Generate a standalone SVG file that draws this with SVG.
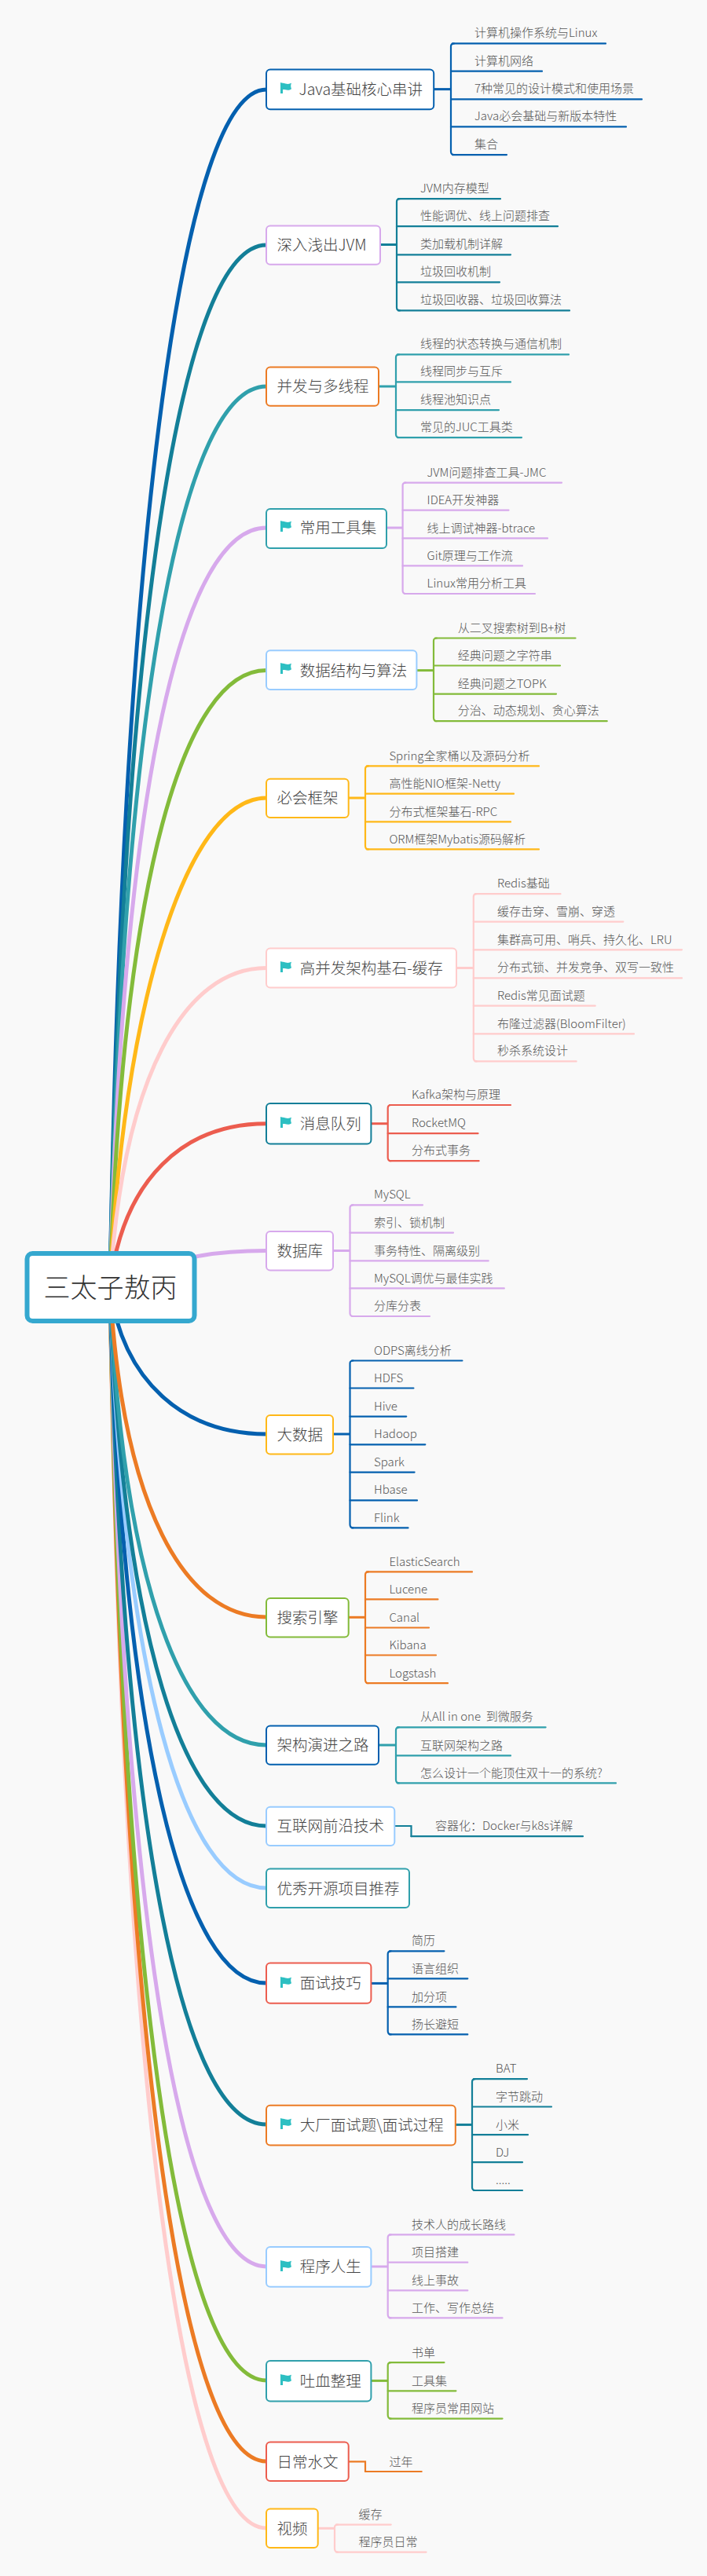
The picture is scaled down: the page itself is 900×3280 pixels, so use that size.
<svg xmlns="http://www.w3.org/2000/svg" width="900" height="3280" viewBox="0 0 900 3280">
<style>
text{font-family:"Noto Sans CJK SC","Noto Sans",sans-serif;font-weight:300;white-space:pre}
.s{font-size:15px;fill:#555}
.t{font-size:19.5px;fill:#444}
.r{fill:#fff;stroke-width:2}
.b,.k,.u{fill:none}
.b{stroke-width:5}.k{stroke-width:3}.u{stroke-width:2.2;stroke-linecap:round}
.blue{stroke:#0460AF}.dteal{stroke:#137F98}.teal{stroke:#30A0AC}.lilac{stroke:#D7A9EC}.green{stroke:#83BB3A}.yellow{stroke:#FFB818}.pink{stroke:#FFCCCC}.red{stroke:#EC5D4F}.orange{stroke:#EC7B24}.lblue{stroke:#99CCFF}
</style>
<defs><path id="flag" d="M0 0C2 1 4 .8 6.500 1.400C9 2.200 11.500 2 14 .8C13 3 12.800 5 14 8.200C11.500 10 9 10 6.500 9.300C5.500 9 4 8.800 3 9V14H0Z" fill="#2DBFC2"/></defs>
<rect width="900" height="3280" fill="#F9F9F9"/>
<g id="connectors">
<path class="b blue" d="M140 1639C156 660 235 114 339 114"/>
<path class="b dteal" d="M140 1639C156 760 235 312 339 312"/>
<path class="b teal" d="M140 1639C156 875 235 492 339 492"/>
<path class="b lilac" d="M140 1639C156 985 235 672 339 672"/>
<path class="b green" d="M140 1639C156 1115 235 853.500 339 853.500"/>
<path class="b yellow" d="M140 1639C156 1290 235 1016 339 1016"/>
<path class="b pink" d="M140 1639C156 1370 235 1232.500 339 1232.500"/>
<path class="b red" d="M140 1639C156 1500 235 1430.700 339 1430.700"/>
<path class="b lilac" d="M240 1602C270 1595 300 1592.500 339 1592.500"/>
<path class="b pink" d="M140 1639C156 2694 235 3219 339 3219"/>
<path class="b orange" d="M140 1639C156 2642 235 3134 339 3134"/>
<path class="b green" d="M140 1639C156 2584 235 3031 339 3031"/>
<path class="b lilac" d="M140 1639C156 2476 235 2886 339 2886"/>
<path class="b dteal" d="M140 1639C156 2353 235 2705 339 2705"/>
<path class="b blue" d="M140 1639C156 2221 235 2525 339 2525"/>
<path class="b lblue" d="M140 1639C156 2135 235 2404 339 2404"/>
<path class="b dteal" d="M140 1639C156 2085 235 2325 339 2325"/>
<path class="b teal" d="M140 1639C156 2020 235 2222 339 2222"/>
<path class="b orange" d="M140 1639C156 1920 235 2059 339 2059"/>
<path class="b blue" d="M140 1639C156 1760 235 1826 339 1826"/>
<g id="brackets">
<path class="k blue" d="M552 113.600H574"/><path class="u blue" d="M578 55.400Q574 55.400 574 59V193Q574 197 578 197"/>
<path class="k dteal" d="M484 311.500H505"/><path class="u dteal" d="M509 253.200Q505 253.200 505 257V391.500Q505 395.400 509 395.400"/>
<path class="k teal" d="M482 492H504"/><path class="u teal" d="M508 451.400Q504 451.400 504 455V553Q504 557 508 557"/>
<path class="k lilac" d="M492 672H512.600"/><path class="u lilac" d="M516.600 614.600Q512.600 614.600 512.600 618V752Q512.600 756 516.600 756"/>
<path class="k green" d="M530.400 853.600H552"/><path class="u green" d="M556 812.500Q552 812.500 552 816V914Q552 918.200 556 918.200"/>
<path class="k yellow" d="M443.700 1016H465"/><path class="u yellow" d="M469 975.400Q465 975.400 465 979V1077Q465 1081.400 469 1081.400"/>
<path class="k pink" d="M581 1232.500H602.800"/><path class="u pink" d="M606.800 1138.200Q602.800 1138.200 602.800 1142V1347Q602.800 1351.400 606.800 1351.400"/>
<path class="k red" d="M472.400 1430.700H493.700"/><path class="u red" d="M497.700 1407Q493.700 1407 493.700 1411V1474Q493.700 1478.200 497.700 1478.200"/>
<path class="k lilac" d="M424 1592.500H445.500"/><path class="u lilac" d="M449.500 1534.300Q445.500 1534.300 445.500 1538V1672Q445.500 1676 449.500 1676"/>
<path class="k blue" d="M424 1826H445.500"/><path class="u blue" d="M449.500 1732.500Q445.500 1732.500 445.500 1736V1941Q445.500 1945.400 449.500 1945.400"/>
<path class="k orange" d="M443.700 2059.300H465"/><path class="u orange" d="M469 2001.400Q465 2001.400 465 2005V2139Q465 2143.200 469 2143.200"/>
<path class="k teal" d="M482 2222H504"/><path class="u teal" d="M508 2199.300Q504 2199.300 504 2203V2266Q504 2270.400 508 2270.400"/>
<path class="u dteal" d="M502.300 2325H523.500V2338.200"/>
<path class="k blue" d="M472.400 2525.400H493.700"/><path class="u blue" d="M497.700 2484.300Q493.700 2484.300 493.700 2488V2586Q493.700 2590.400 497.700 2590.400"/>
<path class="k dteal" d="M579.800 2705.400H601"/><path class="u dteal" d="M605 2647.100Q601 2647.100 601 2651V2785Q601 2789 605 2789"/>
<path class="k lilac" d="M472.400 2886H493.700"/><path class="u lilac" d="M497.700 2845.400Q493.700 2845.400 493.700 2849V2947Q493.700 2951.400 497.700 2951.400"/>
<path class="k green" d="M472.400 3031.400H493.700"/><path class="u green" d="M497.700 3008.200Q493.700 3008.200 493.700 3012V3075Q493.700 3079.600 497.700 3079.600"/>
<path class="u orange" d="M443.700 3134.300H465V3147"/>
<path class="k pink" d="M404.700 3219.300H426"/><path class="u pink" d="M430 3214.600Q426 3214.600 426 3218V3245Q426 3249.600 430 3249.600"/>
</g>
</g>
<g id="root"><rect x="34.500" y="1596" width="213" height="86" rx="7" fill="#fff" stroke="#35A8CF" stroke-width="6"/><text x="140.500" y="1652" text-anchor="middle" style="font-size:34px;fill:#333;font-weight:300">三太子敖丙</text></g>

<g id="java"><rect class="r blue" x="339" y="88.600" width="213.200" height="50.700" rx="5"/><use href="#flag" x="357" y="105"/><text class="t" x="380.600" y="121">Java基础核心串讲</text></g>
<g id="java1"><path class="u blue" d="M576 55.400H771"/><text class="s" x="604" y="47">计算机操作系统与Linux</text></g>
<g id="java2"><path class="u blue" d="M574 90.700H690"/><text class="s" x="604" y="83">计算机网络</text></g>
<g id="java3"><path class="u blue" d="M574 126.400H817"/><text class="s" x="604" y="118">7种常见的设计模式和使用场景</text></g>
<g id="java4"><path class="u blue" d="M574 161.400H797"/><text class="s" x="604" y="153">Java必会基础与新版本特性</text></g>
<g id="java5"><path class="u blue" d="M576 197.100H645"/><text class="s" x="604" y="189">集合</text></g>

<g id="jvm"><rect class="r lilac" x="339" y="287.500" width="145" height="49.300" rx="5"/><text class="t" x="352.500" y="319">深入浅出JVM</text></g>
<g id="jvm1"><path class="u dteal" d="M507 253.200H637"/><text class="s" x="535" y="245">JVM内存模型</text></g>
<g id="jvm2"><path class="u dteal" d="M505 288.200H710"/><text class="s" x="535" y="280">性能调优、线上问题排查</text></g>
<g id="jvm3"><path class="u dteal" d="M505 324.300H650"/><text class="s" x="535" y="316">类加载机制详解</text></g>
<g id="jvm4"><path class="u dteal" d="M505 359.300H636"/><text class="s" x="535" y="351">垃圾回收机制</text></g>
<g id="jvm5"><path class="u dteal" d="M507 395.400H725"/><text class="s" x="535" y="387">垃圾回收器、垃圾回收算法</text></g>

<g id="thread"><rect class="r orange" x="339" y="467.500" width="143" height="49.300" rx="5"/><text class="t" x="352.500" y="499">并发与多线程</text></g>
<g id="thread1"><path class="u teal" d="M506 451.400H724"/><text class="s" x="535" y="443">线程的状态转换与通信机制</text></g>
<g id="thread2"><path class="u teal" d="M504 486.400H650"/><text class="s" x="535" y="478">线程同步与互斥</text></g>
<g id="thread3"><path class="u teal" d="M504 522.100H635"/><text class="s" x="535" y="514">线程池知识点</text></g>
<g id="thread4"><path class="u teal" d="M506 557.100H664"/><text class="s" x="535" y="549">常见的JUC工具类</text></g>

<g id="tools"><rect class="r teal" x="339" y="647.900" width="153" height="50" rx="5"/><use href="#flag" x="357" y="663"/><text class="t" x="381.700" y="679">常用工具集</text></g>
<g id="tools1"><path class="u lilac" d="M515 614.600H715"/><text class="s" x="543.600" y="606.500">JVM问题排查工具-JMC</text></g>
<g id="tools2"><path class="u lilac" d="M512.600 649.600H647.500"/><text class="s" x="543.600" y="641.500">IDEA开发神器</text></g>
<g id="tools3"><path class="u lilac" d="M512.600 685.400H697"/><text class="s" x="543.600" y="677.500">线上调试神器-btrace</text></g>
<g id="tools4"><path class="u lilac" d="M512.600 720.400H665"/><text class="s" x="543.600" y="712.500">Git原理与工作流</text></g>
<g id="tools5"><path class="u lilac" d="M515 756H681"/><text class="s" x="543.600" y="748">Linux常用分析工具</text></g>

<g id="algo"><rect class="r lblue" x="339" y="828.200" width="191.400" height="49.700" rx="5"/><use href="#flag" x="357" y="844"/><text class="t" x="381.700" y="860.500">数据结构与算法</text></g>
<g id="algo1"><path class="u green" d="M554 812.500H732.500"/><text class="s" x="582.700" y="804.500">从二叉搜索树到B+树</text></g>
<g id="algo2"><path class="u green" d="M552 847.500H713"/><text class="s" x="582.700" y="839.500">经典问题之字符串</text></g>
<g id="algo3"><path class="u green" d="M552 883.600H708"/><text class="s" x="582.700" y="875.500">经典问题之TOPK</text></g>
<g id="algo4"><path class="u green" d="M554 918.200H772.700"/><text class="s" x="582.700" y="910">分治、动态规划、贪心算法</text></g>

<g id="framework"><rect class="r yellow" x="339" y="991.800" width="104.700" height="49.200" rx="5"/><text class="t" x="352.500" y="1023">必会框架</text></g>
<g id="framework1"><path class="u yellow" d="M467 975.400H686"/><text class="s" x="495.400" y="967.500">Spring全家桶以及源码分析</text></g>
<g id="framework2"><path class="u yellow" d="M465 1010.700H654"/><text class="s" x="495.400" y="1002.500">高性能NIO框架-Netty</text></g>
<g id="framework3"><path class="u yellow" d="M465 1046.400H650"/><text class="s" x="495.400" y="1038.500">分布式框架基石-RPC</text></g>
<g id="framework4"><path class="u yellow" d="M467 1081.400H686"/><text class="s" x="495.400" y="1073.500">ORM框架Mybatis源码解析</text></g>

<g id="cache"><rect class="r pink" x="339" y="1207.500" width="242" height="50" rx="5"/><use href="#flag" x="357" y="1224"/><text class="t" x="381.700" y="1239.500">高并发架构基石-缓存</text></g>
<g id="cache1"><path class="u pink" d="M605 1138.200H713.500"/><text class="s" x="633" y="1130">Redis基础</text></g>
<g id="cache2"><path class="u pink" d="M602.800 1173.600H793.300"/><text class="s" x="633" y="1165.500">缓存击穿、雪崩、穿透</text></g>
<g id="cache3"><path class="u pink" d="M602.800 1209.300H868"/><text class="s" x="633" y="1201.500">集群高可用、哨兵、持久化、LRU</text></g>
<g id="cache4"><path class="u pink" d="M602.800 1245.400H868"/><text class="s" x="633" y="1237">分布式锁、并发竞争、双写一致性</text></g>
<g id="cache5"><path class="u pink" d="M602.800 1280.700H757.700"/><text class="s" x="633" y="1272.500">Redis常见面试题</text></g>
<g id="cache6"><path class="u pink" d="M602.800 1316.400H807"/><text class="s" x="633" y="1308.500">布隆过滤器(BloomFilter)</text></g>
<g id="cache7"><path class="u pink" d="M605 1351.400H733.600"/><text class="s" x="633" y="1343">秒杀系统设计</text></g>

<g id="mq"><rect class="r dteal" x="339" y="1405" width="133.400" height="51.400" rx="5"/><use href="#flag" x="357" y="1422"/><text class="t" x="381.700" y="1437.500">消息队列</text></g>
<g id="mq1"><path class="u red" d="M496 1407H650"/><text class="s" x="524" y="1399">Kafka架构与原理</text></g>
<g id="mq2"><path class="u red" d="M493.700 1443.200H608.500"/><text class="s" x="524" y="1435">RocketMQ</text></g>
<g id="mq3"><path class="u red" d="M496 1478.200H609.600"/><text class="s" x="524" y="1470">分布式事务</text></g>

<g id="db"><rect class="r lilac" x="339" y="1568" width="85" height="49.500" rx="5"/><text class="t" x="352.500" y="1600">数据库</text></g>
<g id="db1"><path class="u lilac" d="M448 1534.300H538"/><text class="s" x="476" y="1526">MySQL</text></g>
<g id="db2"><path class="u lilac" d="M445.500 1569.600H577"/><text class="s" x="476" y="1561.500">索引、锁机制</text></g>
<g id="db3"><path class="u lilac" d="M445.500 1605.400H621.700"/><text class="s" x="476" y="1597.500">事务特性、隔离级别</text></g>
<g id="db4"><path class="u lilac" d="M445.500 1640.400H641.800"/><text class="s" x="476" y="1632.500">MySQL调优与最佳实践</text></g>
<g id="db5"><path class="u lilac" d="M448 1676H547"/><text class="s" x="476" y="1668">分库分表</text></g>

<g id="bigdata"><rect class="r yellow" x="339" y="1802" width="85" height="49.400" rx="5"/><text class="t" x="352.500" y="1833.500">大数据</text></g>
<g id="bigdata1"><path class="u blue" d="M448 1732.500H588.400"/><text class="s" x="476" y="1724.500">ODPS离线分析</text></g>
<g id="bigdata2"><path class="u blue" d="M445.500 1767.500H526.400"/><text class="s" x="476" y="1759.500">HDFS</text></g>
<g id="bigdata3"><path class="u blue" d="M445.500 1803.600H517.200"/><text class="s" x="476" y="1795.500">Hive</text></g>
<g id="bigdata4"><path class="u blue" d="M445.500 1839.300H541.300"/><text class="s" x="476" y="1831">Hadoop</text></g>
<g id="bigdata5"><path class="u blue" d="M445.500 1874.600H527.600"/><text class="s" x="476" y="1866.500">Spark</text></g>
<g id="bigdata6"><path class="u blue" d="M445.500 1910.400H531"/><text class="s" x="476" y="1902">Hbase</text></g>
<g id="bigdata7"><path class="u blue" d="M448 1945.400H519.500"/><text class="s" x="476" y="1937.500">Flink</text></g>

<g id="search"><rect class="r green" x="339" y="2035" width="104.700" height="49.600" rx="5"/><text class="t" x="352.500" y="2067">搜索引擎</text></g>
<g id="search1"><path class="u orange" d="M467 2001.400H601"/><text class="s" x="495.400" y="1993.500">ElasticSearch</text></g>
<g id="search2"><path class="u orange" d="M465 2036.400H557.400"/><text class="s" x="495.400" y="2029">Lucene</text></g>
<g id="search3"><path class="u orange" d="M465 2072.500H546"/><text class="s" x="495.400" y="2065">Canal</text></g>
<g id="search4"><path class="u orange" d="M465 2107.500H555"/><text class="s" x="495.400" y="2100">Kibana</text></g>
<g id="search5"><path class="u orange" d="M467 2143.200H570"/><text class="s" x="495.400" y="2135.500">Logstash</text></g>

<g id="arch"><rect class="r blue" x="339" y="2197.500" width="143" height="49.300" rx="5"/><text class="t" x="352.500" y="2229">架构演进之路</text></g>
<g id="arch1"><path class="u teal" d="M506 2199.300H694.600"/><text class="s" x="535" y="2191">从All in one  到微服务</text></g>
<g id="arch2"><path class="u teal" d="M504 2235.400H650"/><text class="s" x="535" y="2227.500">互联网架构之路</text></g>
<g id="arch3"><path class="u teal" d="M506 2270.400H784"/><text class="s" x="535" y="2262.500">怎么设计一个能顶住双十一的系统?</text></g>

<g id="frontier"><rect class="r lblue" x="339" y="2300.700" width="163.300" height="49.300" rx="5"/><text class="t" x="352.500" y="2332">互联网前沿技术</text></g>
<g id="frontier1"><path class="u dteal" d="M523.500 2338.200H742"/><text class="s" x="554" y="2330">容器化：Docker与k8s详解</text></g>

<g id="oss"><rect class="r teal" x="339" y="2379.600" width="182" height="49.400" rx="5"/><text class="t" x="352.500" y="2411.500">优秀开源项目推荐</text></g>

<g id="interview"><rect class="r red" x="339" y="2499.600" width="133.400" height="51.100" rx="5"/><use href="#flag" x="357" y="2517"/><text class="t" x="381.700" y="2532">面试技巧</text></g>
<g id="interview1"><path class="u blue" d="M496 2484.300H565.400"/><text class="s" x="524" y="2476">简历</text></g>
<g id="interview2"><path class="u blue" d="M493.700 2519.300H595.300"/><text class="s" x="524" y="2512">语言组织</text></g>
<g id="interview3"><path class="u blue" d="M493.700 2555.400H580.400"/><text class="s" x="524" y="2547.500">加分项</text></g>
<g id="interview4"><path class="u blue" d="M496 2590.400H595.300"/><text class="s" x="524" y="2583">扬长避短</text></g>

<g id="bigco"><rect class="r orange" x="339" y="2680.700" width="240.800" height="50.700" rx="5"/><use href="#flag" x="357" y="2697"/><text class="t" x="381.700" y="2712.500">大厂面试题\面试过程</text></g>
<g id="bigco1"><path class="u dteal" d="M603 2647.100H671"/><text class="s" x="631" y="2639">BAT</text></g>
<g id="bigco2"><path class="u dteal" d="M601 2682.500H702"/><text class="s" x="631" y="2674.500">字节跳动</text></g>
<g id="bigco3"><path class="u dteal" d="M601 2718.200H672"/><text class="s" x="631" y="2710.500">小米</text></g>
<g id="bigco4"><path class="u dteal" d="M601 2753.200H665"/><text class="s" x="631" y="2746">DJ</text></g>
<g id="bigco5"><path class="u dteal" d="M603 2789H665"/><text class="s" x="631" y="2781">.....</text></g>

<g id="life"><rect class="r lblue" x="339" y="2861" width="133.400" height="50.800" rx="5"/><use href="#flag" x="357" y="2878"/><text class="t" x="381.700" y="2893">程序人生</text></g>
<g id="life1"><path class="u lilac" d="M496 2845.400H654.400"/><text class="s" x="524" y="2837.500">技术人的成长路线</text></g>
<g id="life2"><path class="u lilac" d="M493.700 2880.700H595.300"/><text class="s" x="524" y="2873">项目搭建</text></g>
<g id="life3"><path class="u lilac" d="M493.700 2916.400H595.300"/><text class="s" x="524" y="2908.500">线上事故</text></g>
<g id="life4"><path class="u lilac" d="M496 2951.400H639.500"/><text class="s" x="524" y="2943.500">工作、写作总结</text></g>

<g id="dump"><rect class="r teal" x="339" y="3006" width="133.400" height="51.500" rx="5"/><use href="#flag" x="357" y="3023"/><text class="t" x="381.700" y="3038.500">吐血整理</text></g>
<g id="dump1"><path class="u green" d="M496 3008.200H565.400"/><text class="s" x="524" y="3000.500">书单</text></g>
<g id="dump2"><path class="u green" d="M493.700 3044.300H580.400"/><text class="s" x="524" y="3036.500">工具集</text></g>
<g id="dump3"><path class="u green" d="M496 3079.600H639.500"/><text class="s" x="524" y="3072">程序员常用网站</text></g>

<g id="daily"><rect class="r red" x="339" y="3109.600" width="104.700" height="49.400" rx="5"/><text class="t" x="352.500" y="3141.500">日常水文</text></g>
<g id="daily1"><path class="u orange" d="M465 3147H536.700"/><text class="s" x="495.400" y="3139.500">过年</text></g>

<g id="video"><rect class="r yellow" x="339" y="3194.600" width="65.700" height="49.400" rx="5"/><text class="t" x="352.500" y="3226.500">视频</text></g>
<g id="video1"><path class="u pink" d="M428 3214.600H497.700"/><text class="s" x="456.400" y="3206.500">缓存</text></g>
<g id="video2"><path class="u pink" d="M428 3249.600H542.500"/><text class="s" x="456.400" y="3242">程序员日常</text></g>
</svg>
